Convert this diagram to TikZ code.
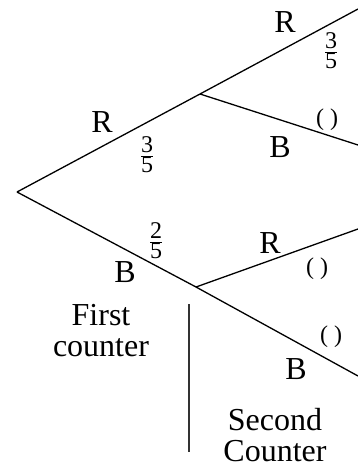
\documentclass[tikz,border=0pt]{standalone}
\usepackage{fontspec}
\setmainfont{Liberation Serif}
\begin{document}
\begin{tikzpicture}[x=1pt,y=-1pt,
  branch/.style={line width=1.3pt},
  lab/.style={inner sep=0pt,anchor=base,font=\fontsize{32}{31}\selectfont},
  frc/.style={inner sep=0pt,font=\fontsize{24}{28}\selectfont},
  par/.style={inner sep=0pt,font=\fontsize{24}{28}\selectfont},
  txt/.style={inner sep=0pt,anchor=north,align=center,font=\fontsize{32}{31}\selectfont}]
\useasboundingbox (0,0) rectangle (358,468);
\coordinate (root) at (17,192);
\coordinate (n1) at (200,94);
\coordinate (n2) at (196,287);
\coordinate (l1) at (358,9);
\coordinate (l2) at (358,145);
\coordinate (l3) at (358,229);
\coordinate (l4) at (358,376);
\coordinate (v1) at (189,304);
\coordinate (v2) at (189,452);
\draw[branch] (root) -- (n1) -- (l1);
\draw[branch] (n1) -- (l2);
\draw[branch] (root) -- (n2) -- (l3);
\draw[branch] (n2) -- (l4);
\draw[line width=1.3pt,black!80] (v1) -- (v2);
% labels
\node[lab] (rA) at (285,33) {R};
\node[frc] (fA) at (331,51) {$\frac{\mbox{3}}{\mbox{5}}$};
\node[lab] (rB) at (102,132) {R};
\node[frc] (fB) at (147,155) {$\frac{\mbox{3}}{\mbox{5}}$};
\node[par] (pA) at (327,120) {( )};
\node[lab] (bA) at (280,157) {B};
\node[frc] (fC) at (156,241) {$\frac{\mbox{2}}{\mbox{5}}$};
\node[lab] (bB) at (125,282) {B};
\node[lab] (rC) at (270,253) {R};
\node[par] (pB) at (317,269) {( )};
\node[par] (pC) at (331,337) {( )};
\node[lab] (bC) at (296,379) {B};
\node[txt] (first) at (101,304) {First\\counter};
\node[txt] (second) at (275,408) {Second\\Counter};
\end{tikzpicture}
\end{document}
